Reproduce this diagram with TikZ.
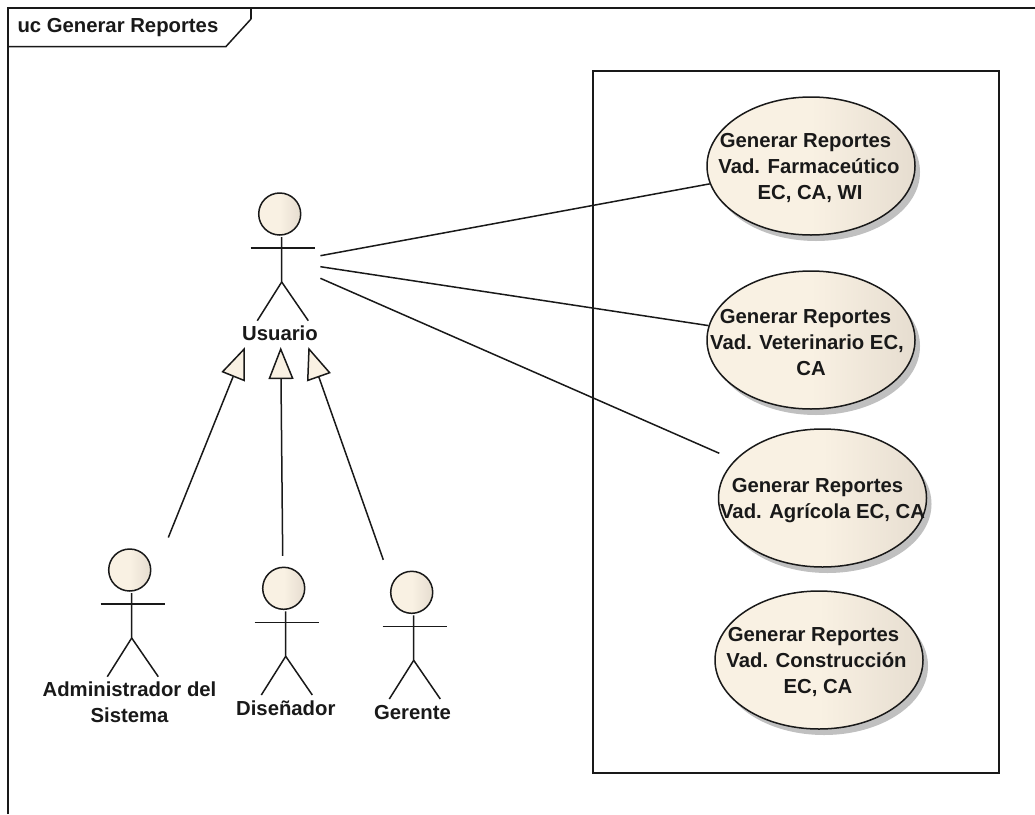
\documentclass[tikz,border=0pt]{standalone}
\usepackage{fontspec}
\setmainfont{Liberation Sans}
\usetikzlibrary{arrows.meta,shapes.geometric,shadows}
\definecolor{cream}{HTML}{F9F1E3}
\definecolor{creamdark}{HTML}{E6DDD0}
\definecolor{shadowgray}{HTML}{C0C0C0}
\pgfdeclarehorizontalshading{ucgrad}{100bp}{color(0bp)=(cream); color(50bp)=(cream); color(75bp)=(creamdark); color(100bp)=(creamdark)}
\newcommand{\ucdown}{\rule{0pt}{19pt}}
\tikzset{
  x=1pt,y=-1pt,
  line/.style={line width=1.5pt,draw=black!90},
  frameline/.style={line width=2pt,draw=black!90},
  lbl/.style={font=\fontsize{20.3}{26}\selectfont\bfseries,inner sep=0pt,anchor=base,align=center,text=black!90},
  usecase/.style={ellipse,inner xsep=-100pt,inner ysep=-50pt,minimum width=208pt,minimum height=138pt,line,shade,shading=ucgrad,
    general shadow={fill=shadowgray,shadow xshift=5pt,shadow yshift=-6pt},
    font=\fontsize{20.3}{26}\selectfont\bfseries,align=center,text=black!90},
  head/.style={circle,inner sep=0pt,minimum size=42pt,line,shade,shading=ucgrad},
  actorbox/.style={inner sep=0pt,minimum width=64pt,minimum height=128pt},
  assoc/.style={line},
  gen/.style={line,-{Triangle[open,fill=cream,length=32pt,width=25pt]}}
}
% name, head x, head y
\newcommand{\ucactor}[3]{%
  \node[actorbox] (#1) at (#2+1.5,#3+43) {};
  \node[head] (#1Head) at (#2,#3) {};
  \draw[line] (#2+2,#3+23) -- (#2+2,#3+68) -- (#2-22.4,#3+106.7);
  \draw[line] (#2+2,#3+68) -- (#2+28.6,#3+106.7);
  \draw[line] (#2-29,#3+34) -- (#2+34.8,#3+34);
}
\begin{document}
\begin{tikzpicture}
\useasboundingbox (0,0) rectangle (1035,814);
\fill[white] (0,0) rectangle (1035,814);
% frame
\draw[frameline] (7.5,814) -- (7.5,8) -- (1035,8);
\draw[line] (7.5,46.5) -- (226,46.5) -- (251,19);
\draw[frameline] (251,19) -- (251,8);
\node[lbl,anchor=base west] (title) at (17.3,32.7) {uc Generar Reportes};
% system boundary
\node[frameline,draw,rectangle,inner sep=0pt,minimum width=406pt,minimum height=702pt] (sistema) at (796,422) {};
% use cases
\node[usecase] (e1) at (811,166) {\ucdown Generar Reportes\kern11pt\\Vad. Farmaceútico\kern4pt\\EC, CA, WI\kern2pt};
\node[usecase] (e2) at (811,340) {\ucdown Generar Reportes\kern11pt\\Vad. Veterinario EC,\kern8pt\\CA};
\node[usecase] (e3) at (822.5,498) {\ucdown Generar Reportes\kern10pt\\Vad. Agrícola EC, CA};
\node[usecase] (e4) at (819,660) {\ucdown Generar Reportes\kern11pt\\Vad. Construcción\kern5pt\\EC, CA\kern2pt};
% actors
\ucactor{usuario}{279.7}{214}
\ucactor{admin}{129.7}{570}
\ucactor{disenador}{283.7}{588.3}
\ucactor{gerente}{411.7}{592.3}
\node[lbl] (usuarioLbl) at (280,340.7) {Usuario};
\node[lbl] (adminLbl) at (129.5,722.7) {Administrador del\\Sistema};
\node[lbl] (disenadorLbl) at (285.8,715) {Diseñador};
\node[lbl] (gerenteLbl) at (412.5,719) {Gerente};
% associations
\coordinate (e3in) at (719.3,453.3);
\draw[assoc] ([shift={(7,-1.3)}]usuario.east) -- (e1.190);
\draw[assoc] ([shift={(7,9.7)}]usuario.east) -- (e2.172);
\draw[assoc] ([shift={(7,21.3)}]usuario.east) -- (e3in);
% generalizations
\draw[gen] ([shift={(37.1,-11.3)}]admin.north) -- ([shift={(-35,6)}]usuarioLbl.south);
\draw[gen] ([shift={(-2.5,-11.3)}]disenador.north) -- ([shift={(0.7,6)}]usuarioLbl.south);
\draw[gen] ([shift={(-29.9,-11.3)}]gerente.north) -- ([shift={(28.3,6)}]usuarioLbl.south);
\end{tikzpicture}
\end{document}
